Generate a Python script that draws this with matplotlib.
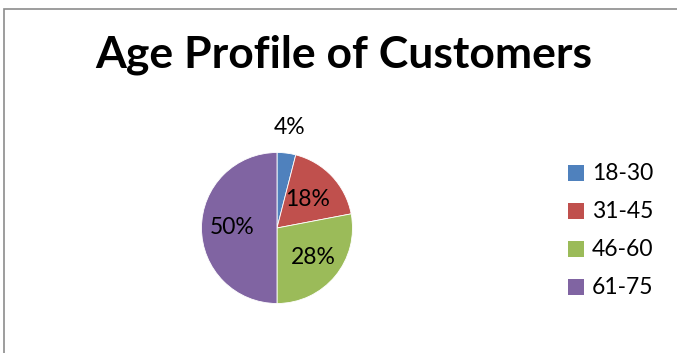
import matplotlib.pyplot as plt
from matplotlib.patches import Rectangle
import numpy as np

plt.rcParams['font.family'] = ['Lato', 'DejaVu Sans']

# data
ages = ["18-30", "31-45", "46-60", "61-75"]
share = [4, 18, 28, 50]
colors = ["#4F81BD", "#C0504D", "#9BBB59", "#8064A2"]
label_dist = [1.34, 0.56, 0.62, 0.60]

W, H = 677, 353
fig = plt.figure(figsize=(W / 100, H / 100), dpi=100)

# chart frame (runs off the right and bottom edges)
fig.patches.append(Rectangle((4 / W, -0.1), 1.1, 1 - 9 / H + 0.1,
                             transform=fig.transFigure, fill=False,
                             edgecolor="#8c8c8c", linewidth=1.2))

fig.text(344 / W, 1 - 55 / H, "Age Profile of Customers", ha="center",
         va="center", fontsize=32, fontweight="bold")

# pie centred at (277, 228) px with radius ~75 px
cx, cy, r = 277, 228, 75.5
ax = fig.add_axes([(cx - r) / W, (H - cy - r) / H, 2 * r / W, 2 * r / H])
wedges, texts, autotexts = ax.pie(share, colors=colors, startangle=90,
                                  counterclock=False, autopct="%d%%",
                                  pctdistance=0.6, radius=1,
                                  wedgeprops=dict(edgecolor="white", linewidth=0.6),
                                  textprops=dict(fontsize=16.5))
for w, t, d in zip(wedges, autotexts, label_dist):
    ang = np.deg2rad((w.theta1 + w.theta2) / 2)
    t.set_position((d * np.cos(ang), d * np.sin(ang)))
    t.set_ha("center")
    t.set_va("center")
ax.set_xlim(-1, 1)
ax.set_ylim(-1, 1)
ax.set_aspect("equal")

# legend
for i, (a, c) in enumerate(zip(ages, colors)):
    y = 173 + i * 38
    fig.patches.append(Rectangle((568 / W, 1 - (y + 8) / H), 16 / W, 16 / H,
                                 transform=fig.transFigure, facecolor=c,
                                 edgecolor="none"))
    fig.text(592 / W, 1 - y / H, a, ha="left", va="center", fontsize=16.5)

plt.savefig("out.png", dpi=100)
